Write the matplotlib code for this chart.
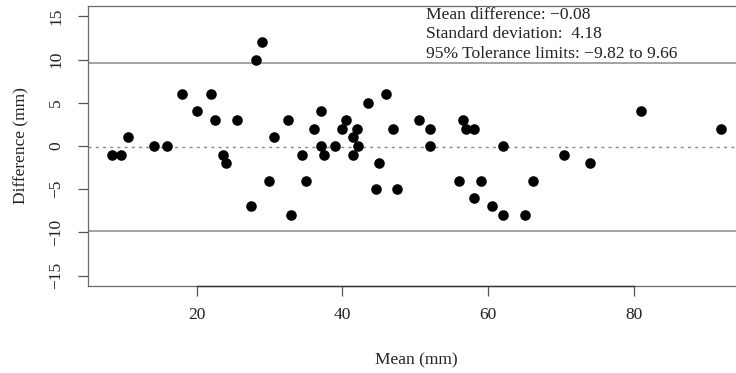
import matplotlib
matplotlib.use("Agg")
import matplotlib.pyplot as plt

# Bland-Altman data
mean_mm = [8.4, 9.6, 10.6, 14.1, 16.0, 18.0, 20.0, 22.0, 22.5, 23.6,
           24.1, 25.6, 27.5, 28.1, 29.0, 30.0, 30.6, 32.6, 33.0, 34.5,
           35.0, 36.1, 37.1, 37.1, 37.5, 39.0, 40.0, 40.5, 41.5, 41.5,
           42.0, 42.1, 43.5, 44.6, 45.0, 46.0, 47.0, 47.5, 50.5, 52.0,
           52.0, 56.0, 56.5, 57.0, 58.0, 58.0, 59.0, 60.5, 62.0, 62.0,
           65.1, 66.1, 70.4, 74.0, 81.0, 91.9]
diff_mm = [-1, -1, 1, 0, 0, 6, 4, 6, 3, -1,
           -2, 3, -7, 10, 12, -4, 1, 3, -8, -1,
           -4, 2, 4, 0, -1, 0, 2, 3, 1, -1,
           2, 0, 5, -5, -2, 6, 2, -5, 3, 2,
           0, -4, 3, 2, 2, -6, -4, -7, 0, -8,
           -8, -4, -1, -2, 4, 2]

mean_diff = -0.08
sd_diff = 4.18
lower_lim = -9.82
upper_lim = 9.66

x_ticks = [20, 40, 60, 80]
y_ticks = [-15, -10, -5, 0, 5, 10, 15]

plt.rcParams["font.family"] = ["Liberation Serif", "DejaVu Serif"]

fig = plt.figure(figsize=(7.36, 3.73), dpi=100)
ax = fig.add_axes([88 / 736, 1 - 286 / 373, 657 / 736, 280 / 373])

ax.scatter(mean_mm, diff_mm, s=58, color="black", zorder=3, linewidths=0)

ax.axhline(upper_lim, color="#8a8a8a", lw=1.1)
ax.axhline(lower_lim, color="#8a8a8a", lw=1.1)
ax.axhline(mean_diff, color="#8a8a8a", lw=1.0, linestyle=(0, (2.2, 3.0)))

ax.set_xlim(5.1, 95.25)
ax.set_ylim(-16.2, 16.2)

for s in ax.spines.values():
    s.set_color("#6a6a6a")
    s.set_linewidth(0.9)
# darker axis line from first to last tick, R style
ax.plot([x_ticks[0], x_ticks[-1]], [-16.2, -16.2], color="#333333", lw=1.0,
        clip_on=False, zorder=4)

ax.set_xticks(x_ticks)
ax.set_yticks(y_ticks)
ax.tick_params(axis="both", direction="out", length=7, width=0.9,
               color="#555555", labelsize=12.5, labelcolor="#222222")
ax.tick_params(axis="x", pad=8)
ax.tick_params(axis="y", pad=10)
for lab in ax.get_yticklabels():
    lab.set_rotation(90)
    lab.set_va("center")

ax.set_xlabel("Mean (mm)", fontsize=12.5, color="#222222", labelpad=21)
ax.set_ylabel("Difference (mm)", fontsize=12.5, color="#222222", labelpad=14)

lines = [f"Mean difference: \u2212{abs(mean_diff):.2f}",
         f"Standard deviation:  {sd_diff:.2f}",
         f"95% Tolerance limits: \u2212{abs(lower_lim):.2f} to {upper_lim:.2f}"]
for i, t in enumerate(lines):
    fig.text(426 / 736, 1 - (15 + 19.5 * i) / 373, t, fontsize=12.6,
             color="#222222", ha="left", va="center")

fig.savefig("out.png", dpi=100)
